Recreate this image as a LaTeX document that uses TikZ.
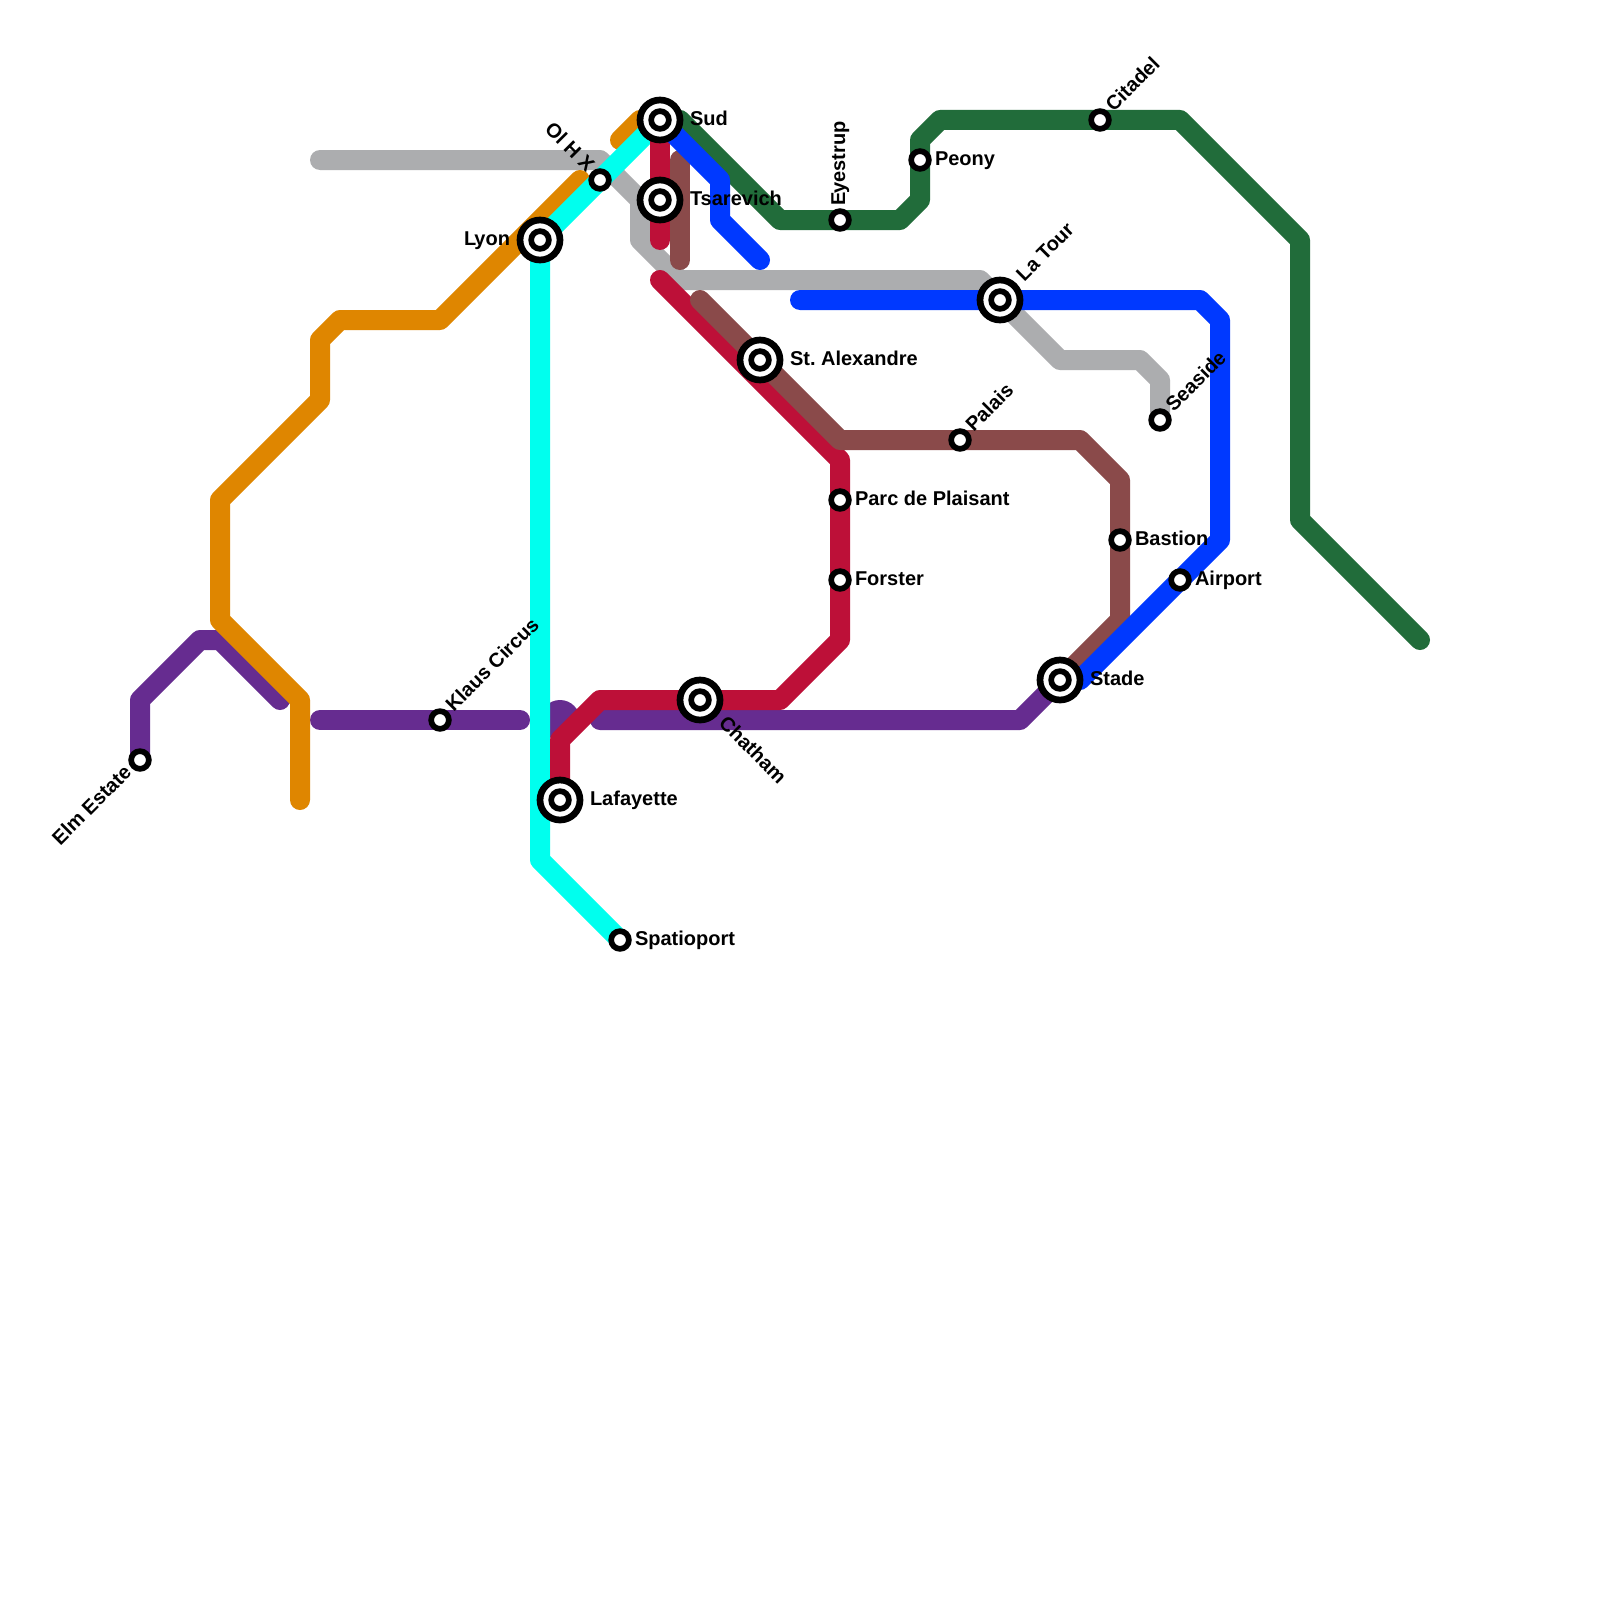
\documentclass[tikz,border=0pt]{standalone}
\usepackage{fontspec}
\setmainfont{Liberation Sans}
\frenchspacing
\pgfdeclarelayer{lines}
\pgfsetlayers{lines,main}
\definecolor{cgray}{HTML}{ACADAF}
\definecolor{cpurple}{HTML}{662C90}
\definecolor{corange}{HTML}{DF8600}
\definecolor{ccyan}{HTML}{00FFEE}
\definecolor{ccrimson}{HTML}{BD1038}
\definecolor{cbrown}{HTML}{8A4A4A}
\definecolor{cblue}{HTML}{0039FF}
\definecolor{cgreen}{HTML}{216C3A}
\tikzset{
  metro/.style={line width=20pt,line cap=round,line join=round},
  stsimple/.style={circle,draw=black,fill=white,line width=5.7pt,minimum size=17.7pt,inner sep=0pt,outer sep=0pt},
  stmajor/.style={circle,draw=black,fill=white,line width=6.7pt,minimum size=40pt,inner sep=0pt,outer sep=0pt,
    path picture={\draw[black,line width=5.7pt] (path picture bounding box.center) circle (8.85pt);}},
  lbl/.style={font=\bfseries\fontsize{20pt}{20pt}\selectfont,text=black,inner sep=0pt,outer sep=0pt}
}
\begin{document}
\begin{tikzpicture}[x=1pt,y=-1pt]
\useasboundingbox (0,0) rectangle (1600,1600);
% stations
\node[stmajor] (sud) at (660,120) {};
\node[stmajor] (tsar) at (660,200) {};
\node[stmajor] (lyon) at (540,240) {};
\node[stmajor] (alex) at (760,360) {};
\node[stmajor] (latour) at (1000,300) {};
\node[stmajor] (stade) at (1060,680) {};
\node[stmajor] (chatham) at (700,700) {};
\node[stmajor] (lafayette) at (560,800) {};
\node[stsimple] (olhx) at (600,180) {};
\node[stsimple] (eyestrup) at (840,220) {};
\node[stsimple] (peony) at (920,160) {};
\node[stsimple] (citadel) at (1100,120) {};
\node[stsimple] (palais) at (960,440) {};
\node[stsimple] (seaside) at (1160,420) {};
\node[stsimple] (parc) at (840,500) {};
\node[stsimple] (forster) at (840,580) {};
\node[stsimple] (bastion) at (1120,540) {};
\node[stsimple] (airport) at (1180,580) {};
\node[stsimple] (spatio) at (620,940) {};
\node[stsimple] (klaus) at (440,720) {};
\node[stsimple] (elm) at (140,760) {};
% lines
\begin{pgfonlayer}{lines}
\fill[white] (0,0) rectangle (1600,1600);
\draw[metro,cgray] (320,160) -- (600,160) -- (640,200) -- (640,240) -- (680,280) -- (980,280) -- (latour.center) -- (1060,360) -- (1140,360) -- (1160,380) -- (seaside.center);
\fill[cpurple] (560,720) circle (20pt);
\draw[metro,cpurple] (elm.center) -- (140,700) -- (200,640) -- (220,640) -- (280,700);
\draw[metro,cpurple] (320,720) -- (klaus.center) -- (520,720);
\draw[metro,cpurple] (600,720) -- (1020,720) -- (stade.center);
\draw[metro,corange] (300,800) -- (300,700) -- (220,620) -- (220,500) -- (320,400) -- (320,340) -- (340,320) -- (440,320) -- (580,180);
\draw[metro,corange] (620,140) -- (640,120) -- (sud.center);
\draw[metro,ccyan] (sud.center) -- (olhx.center) -- (lyon.center) -- (540,860) -- (spatio.center);
\draw[metro,ccrimson] (sud.center) -- (tsar.center) -- (660,240);
\draw[metro,ccrimson] (660,280) -- (840,460) -- (parc.center) -- (forster.center) -- (840,640) -- (780,700) -- (chatham.center) -- (600,700) -- (560,740) -- (lafayette.center);
\draw[metro,cbrown] (680,160) -- (680,260);
\draw[metro,cbrown] (700,300) -- (alex.center) -- (840,440) -- (palais.center) -- (1080,440) -- (1120,480) -- (bastion.center) -- (1120,620) -- (stade.center);
\draw[metro,cgreen] (sud.center) -- (680,120) -- (780,220) -- (eyestrup.center) -- (900,220) -- (920,200) -- (peony.center) -- (920,140) -- (940,120) -- (citadel.center) -- (1180,120) -- (1300,240) -- (1300,520) -- (1420,640);
\draw[metro,cblue] (sud.center) -- (720,180) -- (720,220) -- (760,260);
\draw[metro,cblue] (800,300) -- (latour.center) -- (1200,300) -- (1220,320) -- (1220,540) -- (airport.center) -- (1080,680) -- (stade.center);
\end{pgfonlayer}
% labels
\node[lbl,anchor=base west] (lsud) at ([shift={(30,5.5)}]sud.center) {Sud};
\node[lbl,anchor=base west] (ltsar) at ([shift={(30,5.5)}]tsar.center) {Tsarevich};
\node[lbl,anchor=base east] (llyon) at ([shift={(-30,5.5)}]lyon.center) {L\kern-2pt yon};
\node[lbl,anchor=base west] (lalex) at ([shift={(30,5.5)}]alex.center) {St. Alexandre};
\node[lbl,anchor=base west] (lstade) at ([shift={(30,5.5)}]stade.center) {Stade};
\node[lbl,anchor=base west] (llaf) at ([shift={(30,5.5)}]lafayette.center) {Lafayette};
\node[lbl,anchor=base west] (lpeony) at ([shift={(15,5.5)}]peony.center) {Peony};
\node[lbl,anchor=base west] (lparc) at ([shift={(15,5.5)}]parc.center) {Parc de Plaisant};
\node[lbl,anchor=base west] (lforster) at ([shift={(15,5.5)}]forster.center) {Forster};
\node[lbl,anchor=base west] (lbastion) at ([shift={(15,5.5)}]bastion.center) {Bastion};
\node[lbl,anchor=base west] (lairport) at ([shift={(15,5.5)}]airport.center) {Airport};
\node[lbl,anchor=base west] (lspatio) at ([shift={(15,5.5)}]spatio.center) {Spatioport};
\node[lbl,anchor=base west,rotate=45] (lcitadel) at ([shift={(13.8,-7.4)}]citadel.center) {Citadel};
\node[lbl,anchor=base west,rotate=45] (lpalais) at ([shift={(13.8,-7.4)}]palais.center) {Palais};
\node[lbl,anchor=base west,rotate=45] (lseaside) at ([shift={(13.8,-7.4)}]seaside.center) {Seaside};
\node[lbl,anchor=base west,rotate=45] (lklaus) at ([shift={(13.8,-7.4)}]klaus.center) {Klaus Circus};
\node[lbl,anchor=base west,rotate=45] (llatour) at ([shift={(24.4,-18)}]latour.center) {La Tour};
\node[lbl,anchor=base west,rotate=90] (leyes) at ([shift={(5,-15)}]eyestrup.center) {E\kern-2pt yestrup};
\node[lbl,anchor=base east,rotate=45] (lelm) at ([shift={(-7.4,13.8)}]elm.center) {Elm Estate};
\node[lbl,anchor=base east,rotate=-45] (lolhx) at ([shift={(-13.8,-7.4)}]olhx.center) {Ol H X};
\node[lbl,anchor=base west,rotate=-45] (lchat) at ([shift={(17.8,24.2)}]chatham.center) {Chatham};
\end{tikzpicture}
\end{document}
